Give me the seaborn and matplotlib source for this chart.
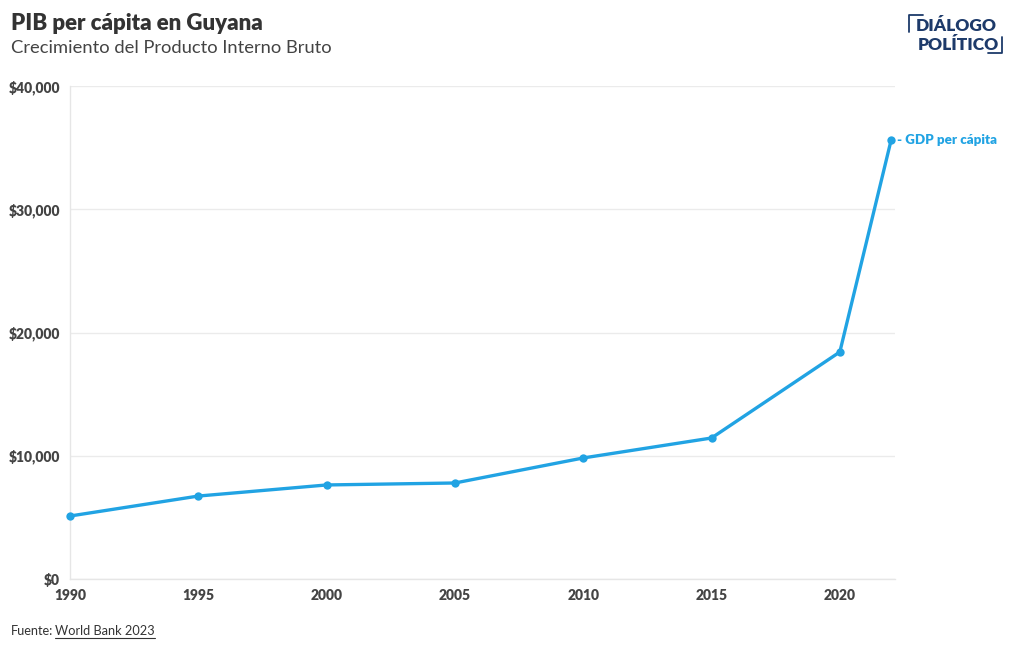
import matplotlib
matplotlib.use("Agg")
import matplotlib.pyplot as plt
from matplotlib.lines import Line2D
import seaborn as sns
import pandas as pd

years = [1990, 1995, 2000, 2005, 2010, 2015, 2020, 2022]
gdp_pc = [5110, 6730, 7630, 7790, 9820, 11440, 18420, 35620]
y_ticks = [0, 10000, 20000, 30000, 40000]
y_tick_labels = ["$0", "$10,000", "$20,000", "$30,000", "$40,000"]
x_ticks = [1990, 1995, 2000, 2005, 2010, 2015, 2020]

df = pd.DataFrame({"year": years, "gdp": gdp_pc})

sns.set_theme(style="white")
plt.rcParams["font.family"] = ["Lato", "DejaVu Sans"]

LINE = "#21a3e3"
TXT = "#333333"

fig = plt.figure(figsize=(10.2, 6.5), dpi=100)
ax = fig.add_axes([70/1020, 1-579/650, (895-70)/1020, (579-86)/650])

sns.lineplot(data=df, x="year", y="gdp", ax=ax, color=LINE, linewidth=2.4,
             marker="o", markersize=6, markeredgewidth=0, zorder=3, clip_on=False)

ax.set_xlim(1990, 2022.15)
ax.set_ylim(0, 40000)
ax.set_yticks(y_ticks)
ax.set_yticklabels(y_tick_labels)
ax.set_xticks(x_ticks)
ax.set_xticklabels([str(v) for v in x_ticks])
ax.set_xlabel("")
ax.set_ylabel("")
ax.grid(axis="y", color="#ebebeb", linewidth=1)
ax.grid(axis="x", visible=False)
for s in ["top", "right"]:
    ax.spines[s].set_visible(False)
ax.spines["left"].set_color("#e6e6e6")
ax.spines["bottom"].set_color("#e6e6e6")
ax.spines["left"].set_linewidth(1)
ax.spines["bottom"].set_linewidth(1)
ax.tick_params(axis="both", length=0, labelsize=10, labelcolor="#444444")
ax.tick_params(axis="y", pad=7)
ax.tick_params(axis="x", pad=7)
for lab in ax.get_xticklabels() + ax.get_yticklabels():
    lab.set_fontweight("heavy")

ax.annotate("- GDP per cápita", xy=(years[-1], gdp_pc[-1]), xytext=(4, 0),
            textcoords="offset points", va="center", ha="left",
            color=LINE, fontsize=9.6, fontweight="heavy", annotation_clip=False)

fig.text(11/1020, 1-24/650, "PIB per cápita en Guyana", fontsize=16, fontweight="heavy",
         color=TXT, va="center", ha="left")
fig.text(11/1020, 1-48/650, "Crecimiento del Producto Interno Bruto", fontsize=13.2,
         color="#444444", va="center", ha="left")
fig.text(11/1020, 1-631/650, "Fuente:", fontsize=9.2, color=TXT, va="center", ha="left")
src = fig.text(55/1020, 1-631/650, "World Bank 2023", fontsize=9.2, color=TXT, va="center",
               ha="left")
fig.canvas.draw()
bb = src.get_window_extent().transformed(fig.transFigure.inverted())
fig.add_artist(Line2D([bb.x0, bb.x1], [1-638/650, 1-638/650], color=TXT, linewidth=0.8))

# logo
NAVY = "#1d3a6a"
fig.text(956/1020, 1-26/650, "DIÁLOGO", fontsize=12.5, fontweight="heavy", color=NAVY,
         ha="center", va="center")
fig.text(958/1020, 1-45/650, "POLÍTICO", fontsize=12.5, fontweight="heavy", color=NAVY,
         ha="center", va="center")
fig.add_artist(Line2D([909/1020, 909/1020, 923/1020], [1-32/650, 1-15/650, 1-15/650],
                      color=NAVY, linewidth=1.3))
fig.add_artist(Line2D([1002/1020, 1002/1020, 988/1020], [1-37/650, 1-53/650, 1-53/650],
                      color=NAVY, linewidth=1.3))

fig.savefig("out.png", dpi=100)
